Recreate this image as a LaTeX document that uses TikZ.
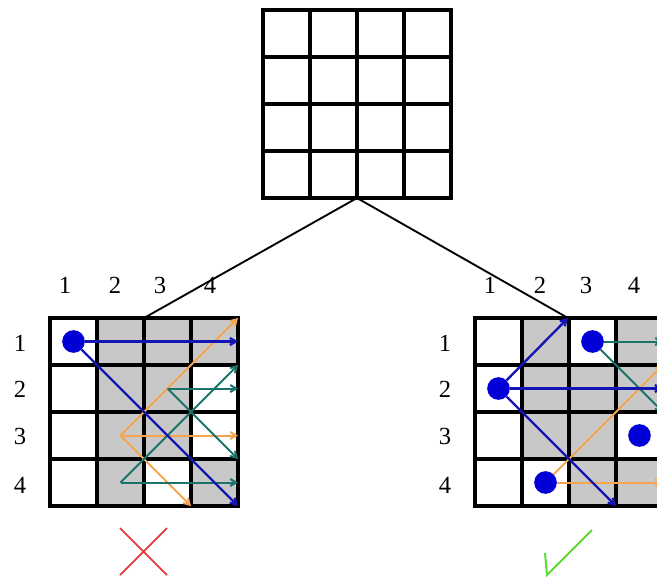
\documentclass[tikz,border=0pt]{standalone}
\usepackage{fontspec}
\setmainfont{Liberation Serif}
\usetikzlibrary{arrows.meta}
\definecolor{dotblue}{RGB}{0,0,215}
\definecolor{arrblue}{RGB}{20,20,180}
\definecolor{arrorange}{RGB}{245,165,80}
\definecolor{arrteal}{RGB}{25,115,105}
\definecolor{cellgray}{RGB}{200,200,200}
\definecolor{crossred}{RGB}{225,60,60}
\definecolor{tickgreen}{RGB}{90,220,50}

\begin{document}
\begin{tikzpicture}[
    x=0.03cm, y=-0.03cm,
    gridline/.style={line width=2.6pt, line cap=rect},
    link/.style={line width=1.6pt},
    dot/.style={circle, fill=dotblue, inner sep=0pt, minimum size=0.68cm},
    arrow/.style={-{Straight Barb[length=5pt, width=6pt]}, line width=1.7pt},
    numlabel/.style={font=\fontsize{21}{25}\selectfont, inner sep=0pt}
]
\useasboundingbox (0,0) rectangle (657,579);
\clip (0,0) rectangle (657,579);

% shaded cells
\foreach \r/\c in {1/2,1/3,1/4,2/2,2/3,3/2,3/3,4/2,4/4}
  \fill[cellgray] (3+47*\c,271+47*\r) rectangle ++(47,47);
\foreach \r/\c in {1/2,1/4,2/2,2/3,2/4,3/2,3/3,4/3,4/4}
  \fill[cellgray] (428+47*\c,271+47*\r) rectangle ++(47,47);

% links from the top grid
\coordinate (top) at (357,198);
\coordinate (lefttop) at (144,318);
\coordinate (righttop) at (568,318);
\draw[link] (top) -- (lefttop);
\draw[link] (top) -- (righttop);

% the three grids
\foreach \x/\y in {263/10,50/318,475/318}
  \foreach \i in {0,...,4} {
    \draw[gridline] (\x+47*\i,\y) -- (\x+47*\i,\y+188);
    \draw[gridline] (\x,\y+47*\i) -- (\x+188,\y+47*\i);
  }

% labels
\foreach \n/\x in {1/65,2/115,3/160,4/210}
  \node[numlabel] (lc\n) at (\x,285) {\n};
\foreach \n/\y in {1/343,2/389,3/436,4/485}
  \node[numlabel] (lr\n) at (20,\y) {\n};
\foreach \n/\x in {1/490,2/540,3/586,4/634}
  \node[numlabel] (rc\n) at (\x,285) {\n};
\foreach \n/\y in {1/343,2/389,3/436,4/485}
  \node[numlabel] (rr\n) at (445,\y) {\n};

% left grid
\coordinate (lo) at (120.5,435.5);
\coordinate (lo1) at (238,318);
\coordinate (lo2) at (238,435.5);
\coordinate (lo3) at (191,506);
\coordinate (lt) at (167.5,388.5);
\coordinate (lt1) at (238,388.5);
\coordinate (lt2) at (238,459);
\coordinate (lu) at (120.5,482.5);
\coordinate (lu1) at (238,482.5);
\coordinate (lu2) at (238,365);
\coordinate (lb1) at (238,341.5);
\coordinate (lb2) at (238,506);
\node[dot] (ldot) at (73.5,341.5) {};

\draw[arrow, arrorange] (lo) -- (lo1);
\draw[arrow, arrorange] (lo) -- (lo2);
\draw[arrow, arrorange] (lo) -- (lo3);
\draw[arrow, arrteal] (lt) -- (lt1);
\draw[arrow, arrteal] (lt) -- (lt2);
\draw[arrow, arrteal] (lu) -- (lu1);
\draw[arrow, arrteal] (lu) -- (lu2);
\draw[arrow, arrblue, line width=2pt] (ldot) -- (lb1);
\draw[arrow, arrblue, line width=2pt] (ldot) -- (lb2);

% right grid
\node[dot] (rb) at (498.5,388.5) {};
\node[dot] (rt) at (592.5,341.5) {};
\node[dot] (rx) at (639.5,435.5) {};
\node[dot] (ro) at (545.5,482.5) {};
\coordinate (rb1) at (568,318);
\coordinate (rb2) at (663,388.5);
\coordinate (rb3) at (616,506);
\coordinate (rt1) at (663,341.5);
\coordinate (rt2) at (663,412);
\coordinate (ro1) at (663,482.5);
\coordinate (ro2) at (663,365);

\draw[arrow, arrorange] (ro) -- (ro1);
\draw[arrow, arrorange] (ro) -- (ro2);
\draw[arrow, arrteal] (rt) -- (rt1);
\draw[arrow, arrteal] (rt) -- (rt2);
\draw[arrow, arrblue, line width=2pt] (rb) -- (rb1);
\draw[arrow, arrblue, line width=2pt] (rb) -- (rb2);
\draw[arrow, arrblue, line width=2pt] (rb) -- (rb3);

% verdict marks
\draw[crossred, line width=1.5pt] (120,528) -- (167,575) (167,528) -- (120,575);
\draw[tickgreen, line width=1.7pt] (545,553) -- (547,575) -- (592,530);

\end{tikzpicture}
\end{document}
